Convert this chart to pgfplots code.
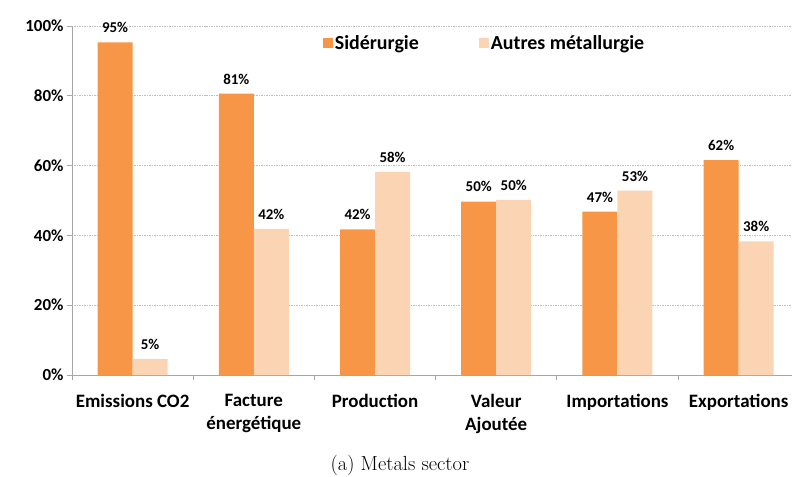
\documentclass[border=0pt]{standalone}
\usepackage{pgfplots}
\pgfplotsset{compat=1.18}
\usepackage{fontspec}
\newfontfamily\carlito{Carlito}
\definecolor{sid}{HTML}{F79646}
\definecolor{aut}{HTML}{FBD4B4}
\definecolor{axgray}{HTML}{A6A6A6}
\definecolor{gridc}{HTML}{BFBFBF}
\begin{document}
\begin{tikzpicture}
\begin{axis}[
  scale only axis, width=720bp, height=349bp,
  xmin=-0.5, xmax=5.44, ymin=0, ymax=100,
  ybar=0pt, bar width=35bp,
  axis x line*=bottom, axis y line*=left,
  axis line style={axgray, line width=0.8pt},
  ytick={0,20,...,100},
  ymajorgrids, grid style={gridc, dash pattern=on 1.5pt off 1pt, line width=0.6pt},
  yticklabel={\pgfmathprintnumber[assume math mode=true]{\tick}\%},
  yticklabel style={font=\carlito\bfseries\fontsize{17}{20}\selectfont, black},
  ytick style={axgray, line width=0.8pt}, tick align=outside, major tick length=5bp,
  xtick={0,...,5},
  xticklabels={Emissions CO2, {Facture\\énergétique}, Production, {Valeur\\Ajoutée}, Importations, Exportations},
  xticklabel style={align=center, font=\carlito\bfseries\fontsize{19}{23}\selectfont, black, yshift=-11bp},
  xtick style={draw=none},
  extra x ticks={-0.5,0.5,1.5,2.5,3.5,4.5},
  extra x tick labels={},
  extra x tick style={grid=none, xtick style={draw=axgray, line width=0.8pt}},
  nodes near coords={\pgfmathprintnumber[fixed,precision=0,assume math mode=true]{\pgfplotspointmeta}\%},
  every node near coord/.append style={font=\carlito\bfseries\fontsize{15}{17}\selectfont, black, yshift=6bp},
  legend style={at={(rel axis cs:0.344,0.951)}, anchor=west, draw=none, fill=none,
    font=\carlito\bfseries\fontsize{20}{22}\selectfont, legend columns=2,
    /tikz/every even column/.append style={column sep=58bp}},
  legend image code/.code={\fill[#1] (0bp,-5bp) rectangle (10bp,5bp);},
]
\addplot[fill=sid, draw=none] coordinates {(0,95.3) (1,80.6) (2,41.7) (3,49.7) (4,46.8) (5,61.6)};
\addplot[fill=aut, draw=none] coordinates {(0,4.6) (1,41.9) (2,58.2) (3,50.2) (4,52.8) (5,38.3)};
\legend{Sidérurgie, Autres métallurgie}
\coordinate (O) at (rel axis cs:0,0);
\end{axis}
\node[font=\fontsize{20.5}{23}\selectfont] at ([shift={(328bp,-90bp)}]O) {(a) Metals sector};
\pgfresetboundingbox
\path ([shift={(-72bp,-102bp)}]O) rectangle ++(792bp,477bp);
\end{tikzpicture}
\end{document}
